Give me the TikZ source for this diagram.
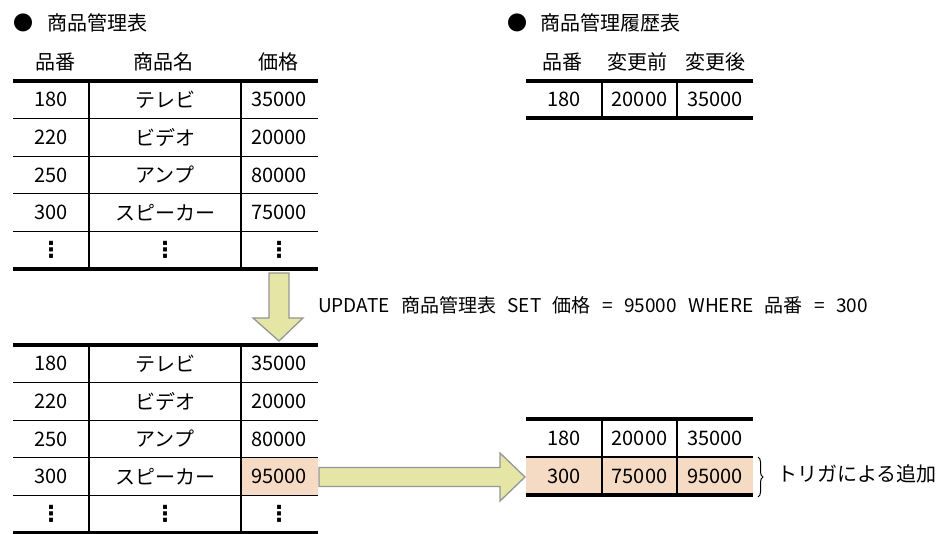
\documentclass[tikz,border=0pt]{standalone}
\usepackage{fontspec}
\setmainfont{Noto Sans CJK JP}
\newfontfamily\symfont{DejaVu Sans}
\usepackage{tikz}
\usetikzlibrary{calc,decorations.pathreplacing}
\definecolor{arrowfill}{RGB}{229,229,166}
\definecolor{arrowline}{RGB}{150,150,150}
\definecolor{peach}{RGB}{246,219,196}
\newcommand{\moredots}{{\symfont\bfseries\fontsize{22}{24}\selectfont ⋮}}

\begin{document}
\begin{tikzpicture}[x=1pt,y=-1pt]
          \tikzstyle{cell}=[inner sep=0pt,font=\fontsize{20}{22}\selectfont]
          \tikzstyle{ttl}=[inner sep=0pt,anchor=west,font=\fontsize{20}{22}\selectfont]
          \tikzstyle{sql}=[inner sep=0pt,anchor=west,font=\fontsize{19}{22}\selectfont]
          \tikzstyle{fatrule}=[draw,line width=4.5pt]
          \tikzstyle{rule}=[draw,line width=1.3pt]
          \tikzstyle{blockarrow}=[draw=arrowline,fill=arrowfill,line width=1.3pt]
          \useasboundingbox (0,0) rectangle (942,534);
          % titles and headers
          \node[cell] (b1) at (23,23) {●};
          \node[ttl] (t1) at (47,23) {商品管理表};
          \node[cell] (b2) at (517,23) {●};
          \node[ttl] (t2) at (540,23) {商品管理履歴表};
          \node[cell] (h1) at (55,62) {品番};
          \node[cell] (h2) at (163,62) {商品名};
          \node[cell] (h3) at (278,62) {価格};
          \node[cell] (g1) at (562,62) {品番};
          \node[cell] (g2) at (637,62) {変更前};
          \node[cell] (g3) at (715,62) {変更後};
          % highlighted cells
          \fill[peach] (241,457.8) rectangle (318,495.4);
          \fill[peach] (526,457) rectangle (753,495);
          % left tables
          \foreach \no/\name/\price [count=\i] in {180/テレビ/35000,220/ビデオ/20000,250/アンプ/80000,300/スピーカー/75000,\moredots/\moredots/\moredots}{
            \node[cell] (an\i) at (51,{62.2+37.6*\i}) {\no};
            \node[cell] (ap\i) at (165,{62.2+37.6*\i}) {\name};
            \node[cell] (ac\i) at (279,{62.2+37.6*\i}) {\price};
            }
          \foreach \no/\name/\price [count=\i] in {180/テレビ/35000,220/ビデオ/20000,250/アンプ/80000,300/スピーカー/95000,\moredots/\moredots/\moredots}{
            \node[cell] (bn\i) at (51,{326.2+37.6*\i}) {\no};
            \node[cell] (bp\i) at (165,{326.2+37.6*\i}) {\name};
            \node[cell] (bc\i) at (279,{326.2+37.6*\i}) {\price};
            }
          \foreach \top in {81,345}{
            \draw[fatrule] (13,\top) -- (318,\top);
            \draw[fatrule] (13,\top+188) -- (318,\top+188);
            \foreach \k in {1,...,4}
              \draw[rule] (13,{\top+37.6*\k}) -- (318,{\top+37.6*\k});
            \draw[rule] (89,\top) -- (89,\top+188);
            \draw[rule] (241,\top) -- (241,\top+188);
            }
          % right tables
          \node[cell] (rn1) at (564,99.5) {180};
          \node[cell] (rb1) at (639.5,99.5) {20000};
          \node[cell] (ra1) at (715,99.5) {35000};
          \node[cell] (sn1) at (564,438) {180};
          \node[cell] (sb1) at (639.5,438) {20000};
          \node[cell] (sa1) at (715,438) {35000};
          \node[cell] (sn2) at (564,476) {300};
          \node[cell] (sb2) at (639.5,476) {75000};
          \node[cell] (sa2) at (715,476) {95000};
          \draw[fatrule] (526,81) -- (753,81);
          \draw[fatrule] (526,118) -- (753,118);
          \draw[rule] (602,81) -- (602,118);
          \draw[rule] (677,81) -- (677,118);
          \draw[fatrule] (526,419) -- (753,419);
          \draw[rule] (526,457) -- (753,457);
          \draw[fatrule] (526,495) -- (753,495);
          \draw[rule] (602,419) -- (602,495);
          \draw[rule] (677,419) -- (677,495);
          % arrows
          \draw[blockarrow] (269,273) -- (289,273) -- (289,318) -- (303,318)
            -- (279,341) -- (253,318) -- (269,318) -- cycle;
          \draw[blockarrow] (319,467.5) -- (500,467.5) -- (500,453) -- (525,477)
            -- (500,501) -- (500,486.5) -- (319,486.5) -- cycle;
          \node[sql] (cmd) at (318,305) {\spaceskip=0.6em\relax UPDATE 商品管理表 SET 価格 = 95000 WHERE 品番 = 300};
          % trigger note
          \coordinate (br1) at (758,457);
          \coordinate (br2) at (758,497);
          \draw[decorate,decoration={brace,amplitude=5pt},line width=1pt] (br1) -- (br2);
          \node[ttl] (note) at (777,474) {トリガによる追加};
        \end{tikzpicture}
\end{document}
